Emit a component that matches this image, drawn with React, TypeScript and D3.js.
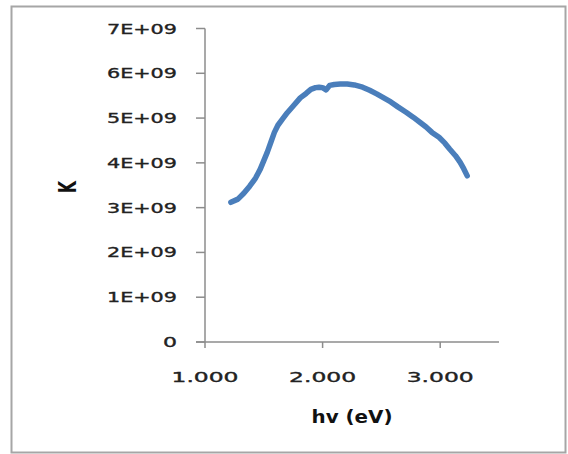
import React from 'react'
import * as d3 from 'd3'

// values
const hv = [1.22, 1.28, 1.33, 1.38, 1.43, 1.47, 1.50, 1.53, 1.56, 1.59, 1.62, 1.66, 1.70, 1.75, 1.81, 1.86, 1.90, 1.94, 1.97, 2.00, 2.03, 2.06, 2.10, 2.15, 2.21, 2.27, 2.34, 2.40, 2.46, 2.52, 2.58, 2.64, 2.71, 2.77, 2.83, 2.88, 2.93, 2.99, 3.04, 3.08, 3.13, 3.17, 3.20, 3.23]
const kVal = [3.12, 3.19, 3.32, 3.48, 3.66, 3.86, 4.05, 4.24, 4.46, 4.68, 4.84, 4.98, 5.12, 5.27, 5.45, 5.55, 5.64, 5.68, 5.69, 5.68, 5.63, 5.73, 5.75, 5.76, 5.76, 5.74, 5.69, 5.62, 5.54, 5.45, 5.36, 5.25, 5.13, 5.02, 4.90, 4.80, 4.68, 4.57, 4.44, 4.31, 4.16, 4.01, 3.87, 3.71]

const yTicks = [0, 1, 2, 3, 4, 5, 6, 7]
const yTickLabels = ['0', '1E+09', '2E+09', '3E+09', '4E+09', '5E+09', '6E+09', '7E+09']
const xTicks = [1, 2, 3]
const xTickLabels = ['1.000', '2.000', '3.000']

const App = () => {
	const width = 568
	const height = 454
	const x = d3.scaleLinear().domain([1, 3.5]).range([205, 499])
	const y = d3.scaleLinear().domain([0, 7]).range([342, 28.5])
	const pts = hv.map((d, i) => [d, kVal[i]])
	const line = d3.line().x(d => x(d[0])).y(d => y(d[1])).curve(d3.curveLinear)
	const axisColor = '#8c8c8c'
	const font = 'DejaVu Sans, Verdana, sans-serif'

	return (
		<svg width={width} height={height} style={{position: 'absolute', left: 0, top: 0, display: 'block'}}>
			<rect x={0} y={0} width={width} height={height} fill="#fff"/>
			<rect x={11.5} y={6.5} width={554} height={446} fill="none" stroke="#a6a6a6" strokeWidth={2}/>

			{/* y axis */}
			<line x1={x(1)} x2={x(1)} y1={y(7)} y2={y(0)} stroke={axisColor} strokeWidth={1.5}/>
			{yTicks.map((t, i) => (
				<g key={`yt-${i}`}>
					<line x1={x(1) - 9} x2={x(1)} y1={y(t)} y2={y(t)} stroke={axisColor} strokeWidth={1.5}/>
					<text x={177} y={y(t)} dy="0.36em" textAnchor="end" fontFamily={font} fontSize={14} fill="#222"
						stroke="#222" strokeWidth={0.35}
						textLength={yTickLabels[i].length === 1 ? 14 : 70} lengthAdjust="spacingAndGlyphs">
						{yTickLabels[i]}
					</text>
				</g>
			))}

			{/* x axis */}
			<line x1={x(1) - 9} x2={x(3.5)} y1={y(0)} y2={y(0)} stroke={axisColor} strokeWidth={1.5}/>
			{xTicks.map((t, i) => (
				<g key={`xt-${i}`}>
					<line x1={x(t)} x2={x(t)} y1={y(0)} y2={y(0) + 6} stroke={axisColor} strokeWidth={1.5}/>
					<text x={x(t)} y={382} textAnchor="middle" fontFamily={font} fontSize={14} fill="#222"
						stroke="#222" strokeWidth={0.35}
						textLength={67} lengthAdjust="spacingAndGlyphs">
						{xTickLabels[i]}
					</text>
				</g>
			))}

			<text x={352} y={423} textAnchor="middle" fontFamily={font} fontSize={17} fontWeight="bold" fill="#111"
				textLength={81} lengthAdjust="spacingAndGlyphs">hv (eV)</text>
			<text transform="translate(76,187) rotate(-90) scale(1,1.5)" textAnchor="middle" fontFamily={font}
				fontSize={16} fontWeight="bold" fill="#111">K</text>

			<path d={line(pts)} fill="none" stroke="#4a7ebb" strokeWidth={5.5} strokeLinecap="round" strokeLinejoin="round"/>
		</svg>
	)
}

export default App
